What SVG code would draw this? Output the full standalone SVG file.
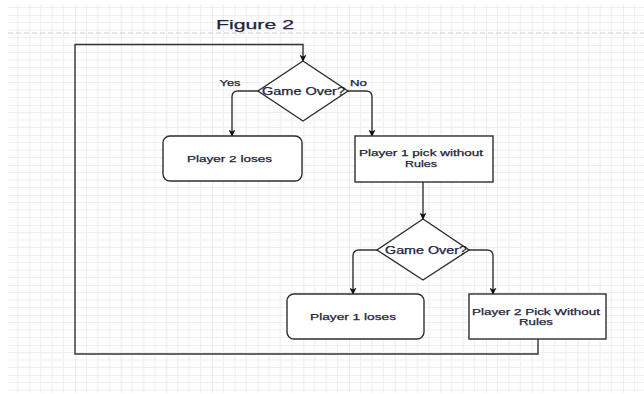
<svg xmlns="http://www.w3.org/2000/svg" width="644" height="394" viewBox="0 0 644 394">
<style>
.t{font-family:"Liberation Sans",Arial,Helvetica,sans-serif;fill:#23233a;stroke:#23233a;stroke-width:0.25;text-anchor:middle}
.s{font-size:9px}
.g{font-size:10px}
.box{fill:#ffffff;stroke:#2e2e2e;stroke-width:1.4}
.edge{fill:none;stroke:#333333;stroke-width:1.4}
</style>
<defs>
<pattern id="grid" patternUnits="userSpaceOnUse" x="29.33" y="15" width="45.67" height="30">
<path d="M11.42 0V30M22.83 0V30M34.25 0V30M0 7.5H45.67M0 15H45.67M0 22.5H45.67" stroke="#efefef" stroke-width="1.2" fill="none"/>
<path d="M0 0V30M0 0H45.67" stroke="#e0e0e0" stroke-width="1.2" fill="none"/>
</pattern>
<marker id="arr" viewBox="0 0 10 10" refX="9" refY="5" markerWidth="7" markerHeight="7" markerUnits="userSpaceOnUse" orient="auto">
<path d="M0,0 L10,5 L0,10 L2.5,5 z" fill="#111"/>
</marker>
</defs>
<rect x="0" y="0" width="644" height="394" fill="#ffffff"/>
<rect x="8" y="5" width="636" height="388" fill="url(#grid)"/>
<line x1="8" y1="33" x2="644" y2="33" stroke="#cfcfcf" stroke-width="1" stroke-dasharray="5,3"/>
<text id="title" class="t" x="255" y="29" font-size="13.5" stroke-width="0.4" textLength="78" lengthAdjust="spacingAndGlyphs">Figure 2</text>

<g id="connectors">
<path class="edge" marker-end="url(#arr)" d="M538 339V354H75V44.5H303V61"/>
<path class="edge" marker-end="url(#arr)" d="M258 91H238Q232 91 232 97V136"/>
<path class="edge" marker-end="url(#arr)" d="M348 91H366Q372 91 372 97V136"/>
<path class="edge" marker-end="url(#arr)" d="M423 182V219"/>
<path class="edge" marker-end="url(#arr)" d="M377 250H359Q353 250 353 256V294"/>
<path class="edge" marker-end="url(#arr)" d="M469 250H487Q493 250 493 256V294"/>
<text class="t s" x="230" y="86" textLength="21" lengthAdjust="spacingAndGlyphs">Yes</text>
<text class="t s" x="358.5" y="86" textLength="17" lengthAdjust="spacingAndGlyphs">No</text>
</g>

<g id="d1">
<polygon class="box" points="303,61 348,91 303,121 258,91"/>
<text class="t g" x="303.5" y="94.5" textLength="83" lengthAdjust="spacingAndGlyphs">Game Over?</text>
</g>
<g id="p2loses">
<rect class="box" x="163" y="136" width="139" height="45" rx="7"/>
<text class="t s" x="229.5" y="162" textLength="85" lengthAdjust="spacingAndGlyphs">Player 2 loses</text>
</g>
<g id="p1pick">
<rect class="box" x="355" y="136" width="138" height="46"/>
<text class="t s" x="421" y="156" textLength="124" lengthAdjust="spacingAndGlyphs">Player 1 pick without</text>
<text class="t s" x="421" y="167" textLength="32" lengthAdjust="spacingAndGlyphs">Rules</text>
</g>
<g id="d2">
<polygon class="box" points="423,219 469,250 423,280 377,250"/>
<text class="t g" x="426" y="253.5" textLength="82" lengthAdjust="spacingAndGlyphs">Game Over?</text>
</g>
<g id="p1loses">
<rect class="box" x="287" y="294" width="137" height="45" rx="7"/>
<text class="t s" x="353" y="320" textLength="86" lengthAdjust="spacingAndGlyphs">Player 1 loses</text>
</g>
<g id="p2pick">
<rect class="box" x="469" y="294" width="137" height="45"/>
<text class="t s" x="536" y="315" textLength="128" lengthAdjust="spacingAndGlyphs">Player 2 Pick Without</text>
<text class="t s" x="536" y="325" textLength="34" lengthAdjust="spacingAndGlyphs">Rules</text>
</g>
</svg>
